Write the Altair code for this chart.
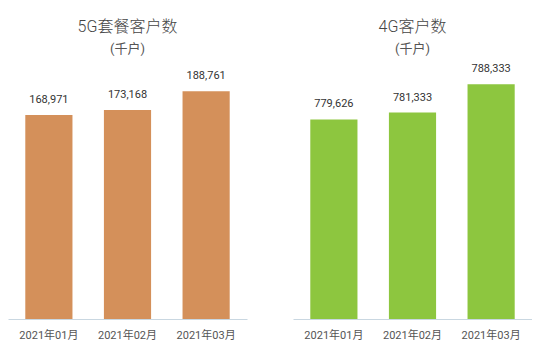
import altair as alt
import pandas as pd

months = ["2021年01月", "2021年02月", "2021年03月"]
g5_values = [168971, 173168, 188761]
g4_values = [779626, 781333, 788333]

FONT = "Roboto, Noto Sans CJK SC, sans-serif"

df5 = pd.DataFrame({"month": months, "value": g5_values})
df4 = pd.DataFrame({"month": months, "value": g4_values})


def panel(df, title, color, domain):
    x = alt.X("month:N", sort=months, title=None,
              scale=alt.Scale(paddingInner=0.4, paddingOuter=0.22),
              axis=alt.Axis(labelAngle=0, ticks=False, grid=False, labelFontSize=11,
                            labelColor="#555555", labelFont=FONT, labelPadding=10,
                            domainColor="#C9D7E1", domainWidth=1))
    y = alt.Y("value:Q", scale=alt.Scale(domain=domain, zero=False, nice=False),
              axis=None)
    bars = alt.Chart(df).mark_bar(color=color, clip=True).encode(x=x, y=y)
    labels = alt.Chart(df).mark_text(dy=-15, fontSize=11, color="#333333", font=FONT,
                                     baseline="middle").encode(
        x=x, y=y, text=alt.Text("value:Q", format=","))
    return alt.layer(bars, labels).properties(
        width=239, height=257,
        title=alt.TitleParams(text=title, subtitle="(千户)", fontSize=16,
                              subtitleFontSize=13, color="#444444",
                              subtitleColor="#555555", font=FONT, subtitleFont=FONT,
                              fontWeight=300, anchor="middle", offset=6,
                              subtitlePadding=8))


left = panel(df5, "5G套餐客户数", "#D4905A", [0, 213000])
right = panel(df4, "4G客户数", "#8DC63F", [730400, 793800])

chart = alt.hconcat(left, right, spacing=46).properties(
    padding={"left": 8, "top": 19, "right": 0, "bottom": 0},
    background="white"
).configure_view(stroke=None)

chart.save("out.html", embed_options={"renderer": "svg", "actions": False})
